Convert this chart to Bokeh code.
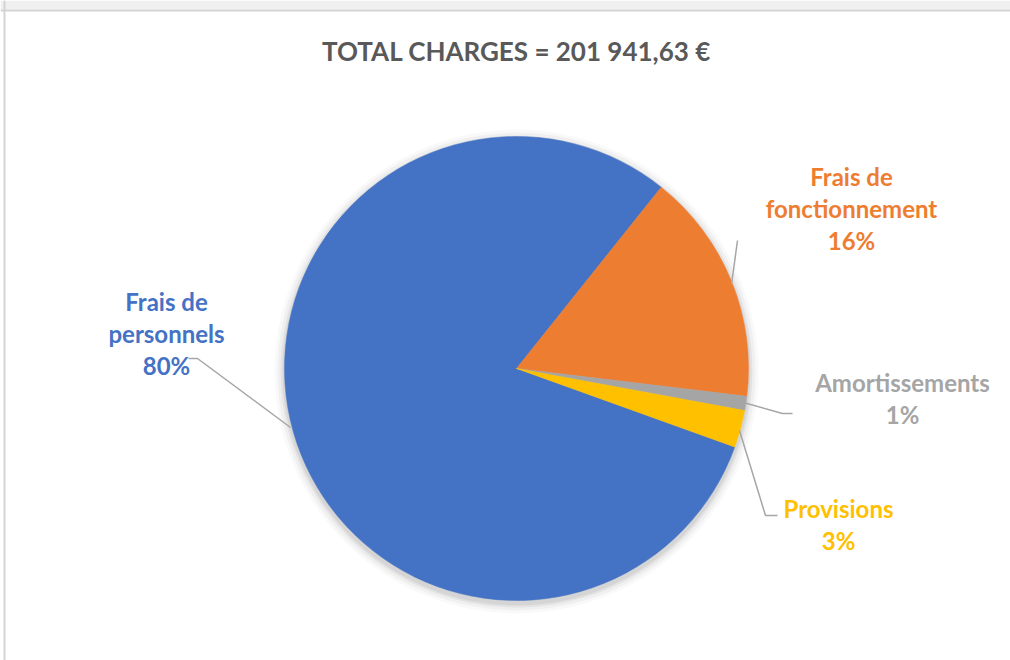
import math
from bokeh.plotting import figure
from bokeh.models import ColumnDataSource, Span, BoxAnnotation
from bokeh.core.properties import value
from bokeh.embed import file_html
from bokeh.resources import INLINE

# ---- data ----
categories = ["Frais de personnels", "Frais de fonctionnement", "Amortissements", "Provisions"]
amounts = [162000.00, 32700.00, 2000.00, 5241.63]
colors = ["#4472C4", "#ED7D31", "#A5A5A5", "#FFC000"]
title_text = "TOTAL CHARGES = 201 941,63 €"
label_lines = [["Frais de", "personnels"], ["Frais de", "fonctionnement"], ["Amortissements"], ["Provisions"]]

# ---- layout (pixels, page coords) ----
W, H = 1010, 660
first_slice_deg = 109.8          # clockwise from 12 o'clock
CX, CY, R = 516, 368, 232        # pie centre / radius in page pixels

def px(X):
    return X

def py(Y):
    return H - Y

total = sum(amounts)
pct = [a / total for a in amounts]
starts, ends = [], []
theta = first_slice_deg
for f in pct:
    t0, t1 = theta, theta + f * 360.0
    starts.append(math.radians(90 - t0))
    ends.append(math.radians(90 - t1))
    theta = t1

p = figure(width=W, height=H, x_range=(0, W), y_range=(0, H),
           output_backend="svg", toolbar_location=None, min_border=0)
p.axis.visible = False
p.grid.visible = False
p.outline_line_color = None
p.background_fill_color = "white"
p.border_fill_color = "white"

# chart-area frame (top strip + top/left border)
p.add_layout(BoxAnnotation(top=py(0), bottom=py(9), fill_color="#F0F0F0", fill_alpha=1, line_color=None))
p.add_layout(Span(location=py(10), dimension="width", line_color="#D4D4D4", line_width=2))
p.add_layout(Span(location=px(4), dimension="height", line_color="#D4D4D4", line_width=2))

# soft shadow
for k, a in [(10, 0.025), (7, 0.035), (4, 0.05), (2, 0.06)]:
    p.circle(x=[px(CX)], y=[py(CY + 3)], radius=R + k, fill_color="#000000",
             fill_alpha=a, line_color=None)

src = ColumnDataSource(dict(start=starts, end=ends, color=colors, name=categories))
p.wedge(x=px(CX), y=py(CY), radius=R, start_angle="start", end_angle="end",
        direction="clock", fill_color="color", line_color="color", line_width=0.5, source=src)

# leader lines (page coords)
leaders = [
    [(188, 358), (197, 358), (290, 427)],
    [(737, 240), (731, 284)],
    [(743, 402), (782, 413), (792, 413)],
    [(739, 430), (765, 515), (777, 515)],
]
for pts in leaders:
    p.line([px(x) for x, _ in pts], [py(y) for _, y in pts], line_color="#A6A6A6", line_width=1.5)

# labels
label_pos = [(166, 301), (851, 176), (902, 382), (838, 508)]
line_gap = 32
font = value("Lato")
for i, (lines, (lx, ly)) in enumerate(zip(label_lines, label_pos)):
    all_lines = lines + ["%d%%" % round(pct[i] * 100)]
    ys = [py(ly + j * line_gap) for j in range(len(all_lines))]
    p.text(x=[px(lx)] * len(all_lines), y=ys, text=all_lines, text_font=font,
           text_font_style="bold", text_font_size="24px", text_color=colors[i],
           text_align="center", text_baseline="middle")

p.text(x=[px(516)], y=[py(50)], text=[title_text], text_font=font, text_font_style="bold",
       text_font_size="26px", text_color="#595959", text_align="center", text_baseline="middle")

open("out.html", "w").write(file_html(p, INLINE))
